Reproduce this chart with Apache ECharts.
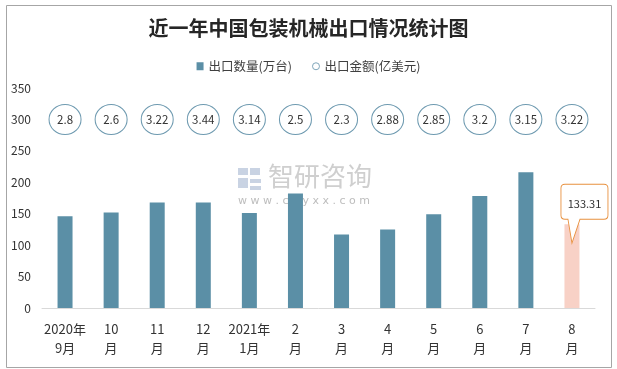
<!DOCTYPE html>
<html>
<head>
<meta charset="utf-8">
<script src="https://cdn.jsdelivr.net/npm/echarts@6/dist/echarts.min.js"></script>
<style>
html,body{margin:0;padding:0;background:#fff;}
#c{width:617px;height:369px;}
</style>
</head>
<body>
<div id="c"></div>
<script>
// ---- data ----
const categories = ['2020年\n9月','10\n月','11\n月','12\n月','2021年\n1月','2\n月','3\n月','4\n月','5\n月','6\n月','7\n月','8\n月'];
const exportQty = [146, 152, 168, 168, 151, 182, 117, 125, 149, 178, 216, 133.31];   // 出口数量(万台)
const exportValue = [2.8, 2.6, 3.22, 3.44, 3.14, 2.5, 2.3, 2.88, 2.85, 3.2, 3.15, 3.22]; // 出口金额(亿美元)
const yMin = 0, yMax = 350, yStep = 50;
const bubbleRow = 300;      // the row of the axis on which the value bubbles sit
const highlightIndex = 11;  // latest month

const FONT = "'Noto Sans CJK SC', 'Noto Sans', sans-serif";
const BAR = '#5B8FA6';
const chart = echarts.init(document.getElementById('c'), null, {renderer: 'canvas'});

const calloutPath = 'path://M4,0 L43,0 Q47,0 47,4 L47,31 Q47,35 43,35 L19,35 L11,59 L7,35 L4,35 Q0,35 0,31 L0,4 Q0,0 4,0 Z';

chart.setOption({
  backgroundColor: '#fff',
  animation: false,
  textStyle: {fontFamily: FONT},
  title: {
    text: '近一年中国包装机械出口情况统计图',
    left: 'center', top: 13,
    textStyle: {fontSize: 20, fontWeight: 'bold', color: '#262626', fontFamily: FONT}
  },
  legend: {
    top: 55, left: 'center',
    itemWidth: 7, itemHeight: 8, itemGap: 20,
    textStyle: {fontSize: 12.5, color: '#404040', fontFamily: FONT},
    data: [
      {name: '出口数量(万台)', icon: 'rect'},
      {name: '出口金额(亿美元)', icon: 'circle', itemStyle: {color: '#fff', borderColor: '#7FA6BA', borderWidth: 1}}
    ]
  },
  grid: {left: 42, right: 22, top: 88, bottom: 61},
  xAxis: {
    type: 'category',
    data: categories,
    axisLine: {lineStyle: {color: '#D9D9D9'}},
    axisTick: {show: false},
    axisLabel: {color: '#333', fontSize: 13, lineHeight: 19, margin: 12, interval: 0, fontFamily: FONT}
  },
  yAxis: {
    type: 'value', min: yMin, max: yMax, interval: yStep,
    axisLine: {show: false}, axisTick: {show: false},
    splitLine: {show: false},
    axisLabel: {color: '#333', fontSize: 12, margin: 11, fontFamily: FONT}
  },
  graphic: [
    {type: 'rect', left: 4, top: 3, shape: {width: 605, height: 362}, style: {fill: 'none', stroke: '#A6A6A6', lineWidth: 1}, z: 100},
    // watermark
    {type: 'group', left: 238, top: 163, z: -1, children: [
      {type: 'rect', shape: {x: 0, y: 2, width: 10, height: 7}, style: {fill: '#C9D3E3'}},
      {type: 'rect', shape: {x: 12, y: 2, width: 10, height: 7}, style: {fill: '#C9D3E3'}},
      {type: 'rect', shape: {x: 0, y: 12, width: 10, height: 10}, style: {fill: '#C9D3E3'}},
      {type: 'rect', shape: {x: 12, y: 13, width: 11, height: 4}, style: {fill: '#C9D3E3'}},
      {type: 'rect', shape: {x: 12, y: 20, width: 11, height: 4}, style: {fill: '#C9D3E3'}},
      {type: 'text', style: {x: 30, y: -3, text: '智研咨询', font: "26px 'Noto Sans CJK SC'", fill: '#CFCFCF'}},
      {type: 'text', style: {x: 0, y: 30, text: 'w w w . c h y x x . c o m', font: "11px 'DejaVu Sans'", fill: '#BDBDBD'}}
    ]}
  ],
  series: [
    {
      name: '出口数量(万台)',
      type: 'bar',
      barWidth: 15,
      itemStyle: {color: BAR},
      data: exportQty.map((v, i) => i === highlightIndex ? {value: v, itemStyle: {color: '#F8D1C6'}} : v),
      markPoint: {
        symbol: calloutPath,
        symbolSize: [47, 59],
        symbolOffset: [12.5, -10.5],
        itemStyle: {color: '#fff', borderColor: '#E8913F', borderWidth: 1},
        label: {show: true, position: 'inside', offset: [0, -10], color: '#333', fontSize: 11, formatter: '{c}'},
        data: [{coord: [highlightIndex, exportQty[highlightIndex]], value: exportQty[highlightIndex]}]
      }
    },
    {
      name: '出口金额(亿美元)',
      type: 'scatter',
      symbol: 'circle',
      symbolSize: [32, 30],
      itemStyle: {color: '#fff', borderColor: '#6E9AB0', borderWidth: 1, opacity: 1},
      label: {show: true, position: 'inside', color: '#333', fontSize: 11.5, formatter: p => p.value[2]},
      data: exportValue.map((v, i) => [i, bubbleRow, v]),
      z: 5
    }
  ]
});
</script>
</body>
</html>
